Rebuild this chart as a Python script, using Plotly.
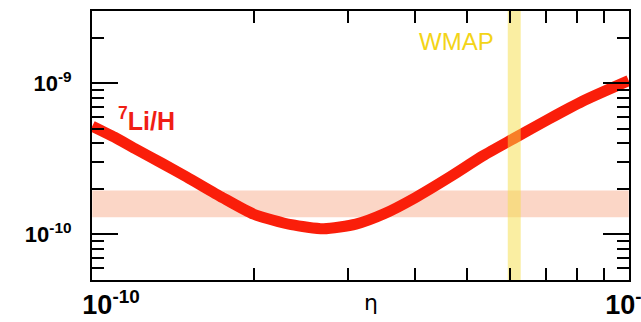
import math
import plotly.graph_objects as go

# eta (baryon-to-photon ratio) and predicted 7Li/H
eta = [1.0e-10, 1.1e-10, 1.2e-10, 1.35e-10, 1.5e-10, 1.75e-10, 2.0e-10, 2.35e-10, 2.7e-10,
       3.1e-10, 3.5e-10, 4.0e-10, 4.65e-10, 5.35e-10, 6.1e-10, 7.1e-10, 8.2e-10, 1.0e-9]
li7_h = [5.2e-10, 4.4e-10, 3.7e-10, 2.95e-10, 2.4e-10, 1.75e-10, 1.36e-10, 1.16e-10, 1.09e-10,
         1.17e-10, 1.37e-10, 1.75e-10, 2.41e-10, 3.31e-10, 4.3e-10, 5.8e-10, 7.6e-10, 1.04e-9]

# observed Li band and WMAP eta band
obs_band = [1.3e-10, 1.95e-10]
wmap_band = [5.95e-10, 6.29e-10]

x_range = [1e-10, 1e-9]
y_range = [5e-11, 3e-9]

# tick labels
NB = "\u00a0"
x_tickvals = [1e-10, 1e-9]
x_ticktext = [NB * 5 + "10<sup>-10</sup>", "10<sup>-9</sup>"]
y_tickvals = [1e-10, 1e-9]
y_ticktext = ["10<sup>-10</sup>", "10<sup>-9</sup>"]

FONT = "Liberation Sans"

fig = go.Figure()

fig.add_trace(go.Scatter(
    x=[x_range[0], x_range[1], x_range[1], x_range[0], x_range[0]],
    y=[obs_band[0], obs_band[0], obs_band[1], obs_band[1], obs_band[0]],
    fill="toself", fillcolor="#fbd6c6", line=dict(width=0), mode="lines",
    hoverinfo="skip", showlegend=False))

fig.add_trace(go.Scatter(
    x=eta, y=li7_h, mode="lines",
    line=dict(color="#fa1e0a", width=11, shape="spline", smoothing=0.6),
    showlegend=False))

fig.add_trace(go.Scatter(
    x=[wmap_band[0], wmap_band[1], wmap_band[1], wmap_band[0], wmap_band[0]],
    y=[y_range[0], y_range[0], y_range[1], y_range[1], y_range[0]],
    fill="toself", fillcolor="rgba(246,222,70,0.5)", line=dict(width=0), mode="lines",
    hoverinfo="skip", showlegend=False))

fig.update_xaxes(
    type="log", range=[math.log10(x_range[0]) - 0.0005, math.log10(x_range[1]) + 0.0005],
    automargin=False, ticklabeloverflow="allow",
    showline=True, linecolor="black", linewidth=2, mirror="ticks",
    ticks="inside", ticklen=26, tickwidth=2, tickcolor="black",
    tickmode="array", tickvals=x_tickvals, ticktext=x_ticktext,
    showgrid=False, zeroline=False,
    ticklabelstandoff=0,
    tickfont=dict(family=FONT, size=27, color="black", weight="bold"),
    minor=dict(ticks="inside", ticklen=12, tickwidth=2, tickcolor="black", dtick="D1", showgrid=False),
)
fig.update_yaxes(
    type="log", range=[math.log10(y_range[0]), math.log10(y_range[1])],
    automargin=False, ticklabeloverflow="allow",
    showline=True, linecolor="black", linewidth=2, mirror="ticks",
    ticks="inside", ticklen=26, tickwidth=2, tickcolor="black",
    tickmode="array", tickvals=y_tickvals, ticktext=y_ticktext,
    showgrid=False, zeroline=False,
    ticklabelstandoff=14,
    tickfont=dict(family=FONT, size=22, color="black", weight="bold"),
    minor=dict(ticks="inside", ticklen=12, tickwidth=2, tickcolor="black", dtick="D1", showgrid=False),
)

fig.add_annotation(text="<sup>7</sup>Li/H", xref="paper", yref="paper", x=0.045, y=0.60,
                   xanchor="left", yanchor="middle", showarrow=False,
                   font=dict(family=FONT, size=25, color="#f01e14", weight="bold"))
fig.add_annotation(text="WMAP", xref="paper", yref="paper", x=0.678, y=0.885,
                   xanchor="center", yanchor="middle", showarrow=False,
                   font=dict(family=FONT, size=24, color="#f3d417"))
fig.add_annotation(text="η", xref="paper", yref="paper", x=0.52, y=-0.085,
                   xanchor="center", yanchor="middle", showarrow=False,
                   font=dict(family="DejaVu Sans", size=22, color="black"))

fig.update_layout(
    template="none",
    font=dict(family=FONT),
    width=641, height=322,
    margin=dict(l=92, r=12, t=11, b=42),
    paper_bgcolor="white", plot_bgcolor="white",
)

fig.write_html("out.html")
